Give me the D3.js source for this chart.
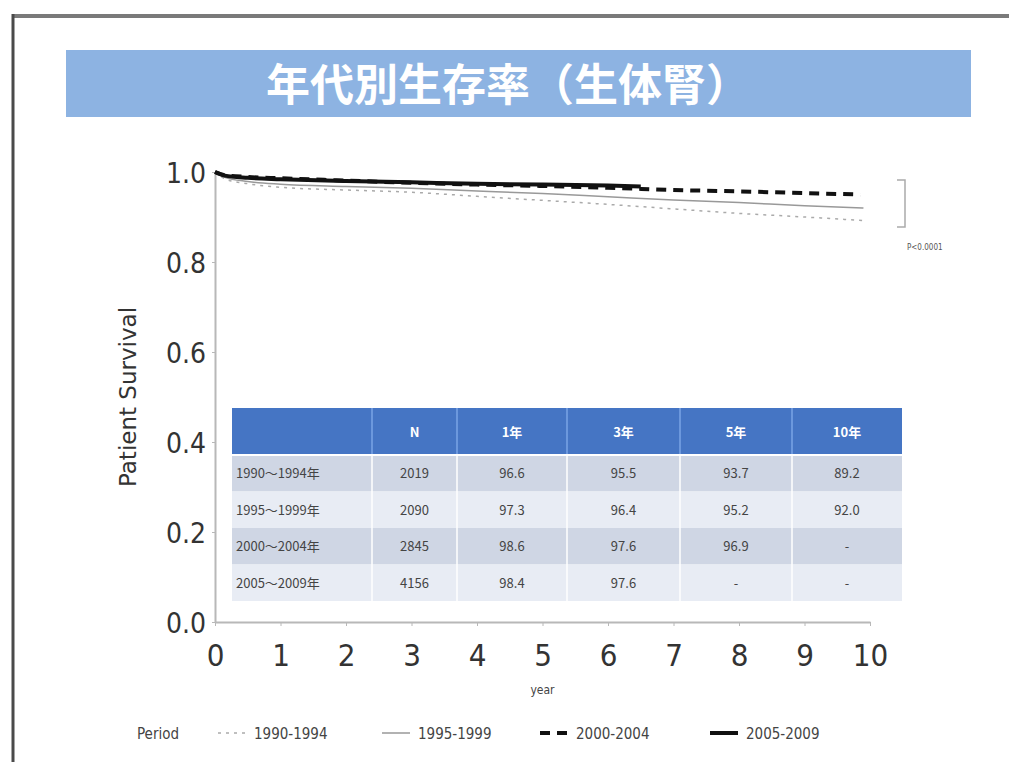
<!DOCTYPE html>
<html>
<head>
<meta charset="utf-8">
<script src="https://cdn.jsdelivr.net/npm/d3@7"></script>
<style>
  body { margin: 0; background: #fff; }
  svg { display: block; }
  .axis path, .axis line { stroke: #b8b8b8; }
  .axis text { fill: #333; font-family: "DejaVu Sans Condensed", "DejaVu Sans", sans-serif; }
</style>
</head>
<body>
<svg width="1009" height="762"></svg>
<script>
// survival curves (year, survival)
var periods = ["1990-1994", "1995-1999", "2000-2004", "2005-2009"];
var years9094 = [0, 0.15, 0.5, 1, 2, 3, 4, 5, 6, 7, 8, 9, 9.9];
var surv9094  = [1, 0.985, 0.974, 0.966, 0.960, 0.955, 0.946, 0.937, 0.928, 0.918, 0.908, 0.900, 0.892];
var years9599 = [0, 0.15, 0.5, 1, 2, 3, 4, 5, 6, 7, 8, 9, 9.9];
var surv9599  = [1, 0.988, 0.979, 0.973, 0.968, 0.964, 0.958, 0.952, 0.945, 0.938, 0.932, 0.925, 0.920];
var years0004 = [0, 0.15, 0.5, 1, 2, 3, 4, 5, 6, 7, 8, 9, 9.85];
var surv0004  = [1, 0.993, 0.989, 0.986, 0.981, 0.976, 0.972, 0.969, 0.965, 0.960, 0.957, 0.953, 0.950];
var years0509 = [0, 0.15, 0.5, 1, 2, 3, 4, 5, 6, 6.5];
var surv0509  = [1, 0.992, 0.987, 0.984, 0.980, 0.977, 0.974, 0.972, 0.970, 0.968];

var xTicks = [0, 1, 2, 3, 4, 5, 6, 7, 8, 9, 10];
var yTicks = [0, 0.2, 0.4, 0.6, 0.8, 1.0];

// table in the plot
var tableHead = ["", "N", "1年", "3年", "5年", "10年"];
var tableRows = ["1990〜1994年", "1995〜1999年", "2000〜2004年", "2005〜2009年"];
var tableN    = ["2019", "2090", "2845", "4156"];
var rate1     = ["96.6", "97.3", "98.6", "98.4"];
var rate3     = ["95.5", "96.4", "97.6", "97.6"];
var rate5     = ["93.7", "95.2", "96.9", "-"];
var rate10    = ["89.2", "92.0", "-", "-"];

var svg = d3.select("svg");

// frame of the slide
svg.append("line").attr("x1", 13).attr("y1", 16).attr("x2", 1009).attr("y2", 16)
    .attr("stroke", "#7a7a7a").attr("stroke-width", 4);
svg.append("line").attr("x1", 13).attr("y1", 14).attr("x2", 13).attr("y2", 762)
    .attr("stroke", "#4a4a4a").attr("stroke-width", 3);

// title bar
svg.append("rect").attr("x", 66).attr("y", 50).attr("width", 905).attr("height", 67)
    .attr("fill", "#8db3e2");
svg.append("text").attr("x", 508).attr("y", 101)
    .attr("text-anchor", "middle")
    .attr("font-family", "Noto Sans CJK JP")
    .attr("font-weight", "bold")
    .attr("font-size", 44)
    .attr("fill", "#fff")
    .text("年代別生存率（生体腎）");

var scaleX = d3.scaleLinear().domain([0, 10]).range([215, 870]);
var scaleY = d3.scaleLinear().domain([0, 1]).range([622, 172]);

//Add the x Axis
var gx = svg.append("g")
    .attr("class", "axis")
    .attr("transform", "translate(0," + scaleY(0) + ")")
    .call(d3.axisBottom(scaleX).tickValues(xTicks).tickSize(4).tickSizeOuter(0).tickPadding(18)
        .tickFormat(d3.format("d")));
gx.selectAll("text").attr("font-size", 31);
gx.select(".domain").attr("stroke-width", 2);

//Add the Y Axis
var gy = svg.append("g")
    .attr("class", "axis")
    .attr("transform", "translate(" + scaleX(0) + ",0)")
    .call(d3.axisLeft(scaleY).tickValues(yTicks).tickSize(3).tickSizeOuter(0).tickPadding(6)
        .tickFormat(d3.format(".1f")));
gy.selectAll("text").attr("font-size", 28).attr("font-family", "DejaVu Sans").attr("dy", "0.38em");
gy.select(".domain").attr("stroke-width", 2);

// axis titles
svg.append("text")
    .attr("transform", "translate(136," + scaleY(0.5) + ") rotate(-90)")
    .attr("text-anchor", "middle")
    .attr("font-family", "DejaVu Sans")
    .attr("font-size", 23)
    .attr("fill", "#333")
    .text("Patient Survival");
svg.append("text").attr("x", scaleX(5)).attr("y", 694)
    .attr("text-anchor", "middle")
    .attr("font-family", "DejaVu Sans Condensed")
    .attr("font-size", 12)
    .attr("fill", "#444")
    .text("year");

// table
var colEdges = [232, 372, 457, 567, 680, 792, 902];
var headTop = 408, headH = 47, rowH = 36.5;
var table = svg.append("g");
table.append("rect").attr("x", colEdges[0]).attr("y", headTop)
    .attr("width", colEdges[6] - colEdges[0]).attr("height", headH)
    .attr("fill", "#4575c4");
tableRows.forEach(function(r, i) {
    table.append("rect").attr("x", colEdges[0]).attr("y", headTop + headH + i * rowH)
        .attr("width", colEdges[6] - colEdges[0]).attr("height", rowH)
        .attr("fill", i % 2 === 0 ? "#cfd6e4" : "#e8ecf4");
});
colEdges.slice(1, 6).forEach(function(x) {
    table.append("line").attr("x1", x).attr("x2", x)
        .attr("y1", headTop).attr("y2", headTop + headH)
        .attr("stroke", "#7aa4e6").attr("stroke-width", 1.5);
    table.append("line").attr("x1", x).attr("x2", x)
        .attr("y1", headTop + headH).attr("y2", headTop + headH + 4 * rowH)
        .attr("stroke", "#fff").attr("stroke-width", 1.5);
});
table.append("line").attr("x1", colEdges[0]).attr("x2", colEdges[6])
    .attr("y1", headTop + headH).attr("y2", headTop + headH)
    .attr("stroke", "#fff").attr("stroke-width", 2);
tableHead.forEach(function(h, j) {
    table.append("text")
        .attr("x", (colEdges[j] + colEdges[j + 1]) / 2).attr("y", headTop + headH / 2 + 5)
        .attr("text-anchor", "middle")
        .attr("font-family", "Noto Sans CJK JP").attr("font-weight", "bold")
        .attr("font-size", 13).attr("fill", "#fff")
        .text(h);
});
var cols = [tableRows, tableN, rate1, rate3, rate5, rate10];
cols.forEach(function(col, j) {
    col.forEach(function(v, i) {
        table.append("text")
            .attr("x", j === 0 ? colEdges[0] + 4 : (colEdges[j] + colEdges[j + 1]) / 2)
            .attr("y", headTop + headH + i * rowH + rowH / 2 + 5)
            .attr("text-anchor", j === 0 ? "start" : "middle")
            .attr("font-family", "Noto Sans CJK JP")
            .attr("font-size", 13).attr("fill", "#444")
            .text(v);
    });
});

// curves
var styles = [
    {color: "#aaaaaa", width: 1.5, dash: "3,5"},
    {color: "#999999", width: 1.5, dash: null},
    {color: "#111111", width: 4, dash: "10,7"},
    {color: "#111111", width: 4, dash: null}
];
var series = [
    d3.zip(years9094, surv9094),
    d3.zip(years9599, surv9599),
    d3.zip(years0004, surv0004),
    d3.zip(years0509, surv0509)
];
var KMLine = d3.line()
    .x(function(d) { return scaleX(d[0]); })
    .y(function(d) { return scaleY(d[1]); })
    .curve(d3.curveMonotoneX);
series.forEach(function(s, i) {
    svg.append("path")
        .attr("d", KMLine(s))
        .attr("fill", "none")
        .attr("stroke", styles[i].color)
        .attr("stroke-width", styles[i].width)
        .attr("stroke-dasharray", styles[i].dash);
});

// p-value bracket
svg.append("path")
    .attr("d", "M897," + scaleY(0.982) + "H905V" + scaleY(0.878) + "H897")
    .attr("fill", "none").attr("stroke", "#aaa").attr("stroke-width", 1.5);
svg.append("text").attr("x", 907).attr("y", 250)
    .attr("font-family", "DejaVu Sans Condensed").attr("font-size", 8).attr("fill", "#555")
    .text("P<0.0001");

// legend
var legend = svg.append("g").attr("font-family", "DejaVu Sans Condensed").attr("font-size", 15).attr("fill", "#444");
legend.append("text").attr("x", 137).attr("y", 739).text("Period");
var legX = [218, 382, 540, 710];
periods.forEach(function(p, i) {
    legend.append("line")
        .attr("x1", legX[i]).attr("x2", legX[i] + 28)
        .attr("y1", 733).attr("y2", 733)
        .attr("stroke", styles[i].color)
        .attr("stroke-width", styles[i].width)
        .attr("stroke-dasharray", styles[i].dash);
    legend.append("text").attr("x", legX[i] + 36).attr("y", 739).text(p);
});
</script>
</body>
</html>
